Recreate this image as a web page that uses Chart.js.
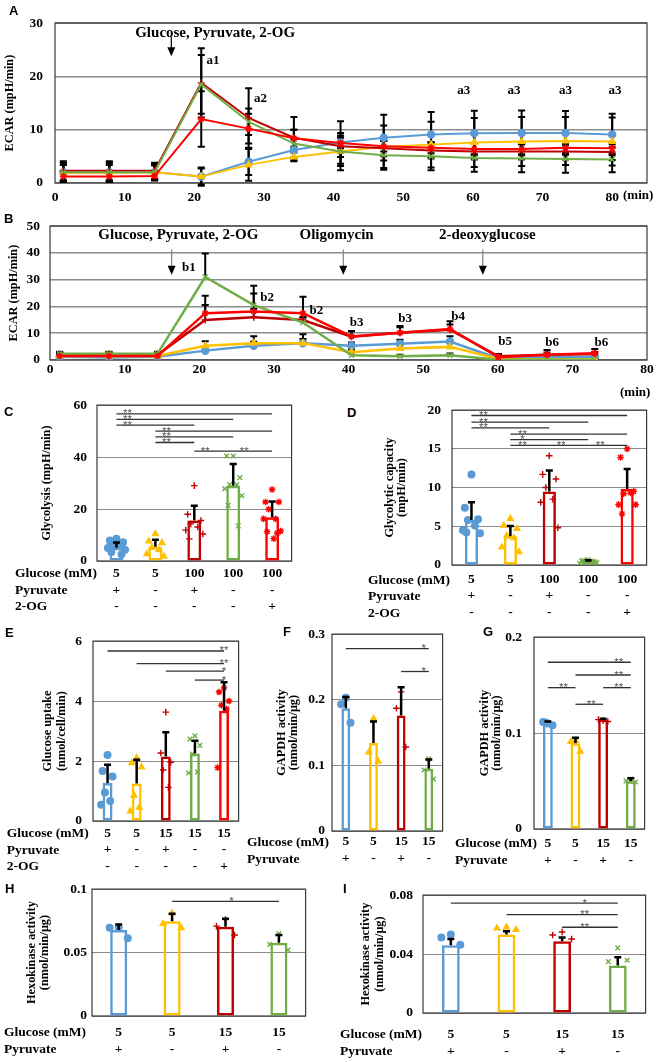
<!DOCTYPE html>
<html>
<head>
<meta charset="utf-8">
<script src="https://cdn.jsdelivr.net/npm/chart.js@4.4.1/dist/chart.umd.min.js"></script>
<style>
html,body{margin:0;padding:0;background:#fff;}
body{width:657px;height:1062px;position:relative;overflow:hidden;}
canvas{position:absolute;}
.rh{position:absolute;font-family:"Liberation Serif","Times New Roman",serif;font-weight:bold;font-size:13.5px;line-height:16.5px;white-space:nowrap;color:#000;}
.pl{position:absolute;font-family:"Liberation Sans",Arial,sans-serif;font-weight:bold;font-size:13px;line-height:13px;color:#000;}
.mn{position:absolute;font-family:"Liberation Serif","Times New Roman",serif;font-weight:bold;font-size:13px;line-height:13px;color:#000;}
</style>
</head>
<body>
<script>
// ================= DATA =================
// Panel A (ECAR time course)
const timeA      = [1.2, 7.8, 14.3, 21, 27.8, 34.3, 41, 47.2, 54, 60.2, 67, 73.3, 80];
const blueA      = [2.0, 2.0, 2.0, 1.2, 4.0, 6.2, 7.6, 8.5, 9.1, 9.35, 9.4, 9.4, 9.1];
const yellowA    = [1.9, 1.9, 2.0, 1.2, 3.4, 4.9, 5.9, 6.8, 7.2, 7.6, 7.8, 7.9, 7.8];
const darkredA   = [2.3, 2.3, 2.3, 18.8, 12.2, 8.5, 6.9, 6.5, 6.1, 5.9, 5.9, 5.9, 5.8];
const greenA     = [2.0, 2.0, 2.0, 18.5, 11.5, 7.4, 5.9, 5.2, 5.0, 4.7, 4.6, 4.5, 4.4];
const redA       = [1.2, 1.2, 1.3, 12.0, 10.2, 8.4, 7.5, 6.9, 6.6, 6.4, 6.4, 6.6, 6.5];
const blueSdA    = [1.8, 1.8, 1.5, 1.7, 2.5, 2.0, 4.0, 4.3, 4.2, 4.2, 4.2, 4.1, 3.9];
const yellowSdA  = [1.5, 1.5, 1.3, 1.5, 3.0, 0.8, 3.5, 4.0, 4.3, 4.6, 4.6, 4.5, 4.5];
const darkredSdA = [1.8, 1.8, 1.5, 6.5, 5.6, 3.9, 2.0, 1.5, 1.5, 1.5, 1.5, 1.5, 1.5];
const greenSdA   = [1.8, 1.8, 1.5, 5.5, 2.5, 2.6, 2.7, 2.7, 2.6, 2.6, 2.6, 2.6, 2.4];
const redSdA     = [0.8, 0.8, 0.8, 5.2, 2.8, 1.6, 1.0, 1.0, 1.0, 1.0, 1.0, 1.0, 1.0];
const xTicksA = [0, 10, 20, 30, 40, 50, 60, 70, 80];
const yTicksA = [0, 10, 20, 30];

// Panel B (ECAR with oligomycin / 2-DG)
const timeB      = [1.3, 7.9, 14.4, 20.8, 27.3, 33.9, 40.4, 46.9, 53.6, 60.1, 66.6, 73.0];
const blueB      = [1.2, 0.9, 1.2, 3.5, 5.3, 6.3, 5.3, 6.1, 6.9, 0.6, 1.0, 1.2];
const yellowB    = [1.5, 1.5, 1.5, 5.3, 6.3, 6.3, 2.9, 4.3, 4.9, 0.4, 0.2, 0.2];
const darkredB   = [1.9, 1.9, 1.9, 14.9, 16.0, 14.9, 8.7, 10.2, 11.3, 1.4, 2.0, 2.2];
const greenB     = [2.3, 2.3, 2.3, 31.0, 20.5, 14.0, 1.8, 1.4, 1.8, 0.1, 0.1, 0.1];
const redB       = [1.5, 1.5, 1.5, 17.5, 18.1, 17.5, 8.8, 10.2, 11.6, 1.0, 2.0, 2.5];
const blueSdB    = [0.8, 0.8, 0.8, 1.2, 1.5, 1.5, 1.2, 1.5, 2.0, 0.6, 0.6, 0.6];
const yellowSdB  = [0.8, 0.8, 0.8, 1.7, 2.6, 3.3, 1.0, 1.5, 1.5, 0.5, 0.5, 0.5];
const darkredSdB = [1.0, 1.0, 1.0, 5.6, 3.0, 1.0, 2.0, 2.0, 2.0, 0.8, 0.8, 0.8];
const greenSdB   = [0.8, 0.8, 0.8, 8.8, 7.2, 2.0, 0.6, 0.6, 0.6, 0.3, 0.3, 0.3];
const redSdB     = [1.0, 1.0, 1.0, 6.5, 6.7, 6.1, 2.0, 2.5, 2.9, 1.2, 1.7, 1.6];
const xTicksB = [0, 10, 20, 30, 40, 50, 60, 70, 80];
const yTicksB = [0, 10, 20, 30, 40, 50];

// Row headers
const rows3 = ['Glucose (mM)', 'Pyruvate', '2-OG'];
const rows2 = ['Glucose (mM)', 'Pyruvate'];

// Panel C (Glycolysis)
const glucoseC  = ['5', '5', '100', '100', '100'];
const pyruvateC = ['+', '-', '+', '-', '-'];
const ogC       = ['-', '-', '-', '-', '+'];
const meanC = [5.1, 5.5, 15.6, 29.0, 16.8];
const sdC   = [2.0, 2.7, 5.7, 8.3, 6.1];
const ptsC  = [
  [8.6, 7.9, 7.2, 6.4, 5.8, 5.0, 4.3, 3.5, 2.6],
  [10.4, 7.6, 7.0, 5.1, 4.3, 2.7, 1.8],
  [29.0, 18.0, 15.6, 14.3, 13.1, 11.9, 10.4, 8.5],
  [40.4, 40.4, 32.1, 29.4, 29.4, 27.8, 25.1, 21.4, 13.5],
  [27.5, 22.7, 22.7, 19.9, 16.2, 16.2, 11.5, 11.3, 10.7, 8.6]
];
const sigC = [[0,4,56.6,'**'],[0,3,54.5,'**'],[0,2,52.3,'**'],[1,4,50.0,'**'],[1,3,47.8,'**'],[1,2,45.6,'**'],[2,3,42.3,'**'],[3,4,42.3,'**']];
const yTicksC = [0, 20, 40, 60];

// Panel D (Glycolytic capacity)
const glucoseD  = ['5', '5', '100', '100', '100'];
const pyruvateD = ['+', '-', '+', '-', '-'];
const ogD       = ['-', '-', '-', '-', '+'];
const meanD = [5.8, 3.7, 9.5, 0.4, 9.8];
const sdD   = [2.3, 1.35, 2.7, 0.2, 2.6];
const ptsD  = [
  [11.7, 7.4, 5.9, 5.8, 5.1, 4.5, 4.1, 4.2],
  [6.0, 5.1, 4.7, 3.8, 3.5, 2.3, 1.7],
  [14.1, 11.7, 11.1, 10.0, 8.5, 8.1, 4.8],
  [0.7, 0.5, 0.4, 0.3, 0.5, 0.2, 0.3, 0.6, 0.4],
  [15.0, 13.9, 9.5, 9.2, 9.3, 7.8, 7.8, 6.6]
];
const sigD = [[0,4,19.3,'**'],[0,3,18.45,'**'],[0,2,17.7,'**'],[1,4,16.9,'**'],[1,3,16.2,'*'],[1,2,15.45,'**'],[2,3,15.45,'**'],[3,4,15.45,'**']];
const yTicksD = [0, 5, 10, 15, 20];

// Panel E (Glucose uptake)
const glucoseE  = ['5', '5', '15', '15', '15'];
const pyruvateE = ['+', '-', '+', '-', '-'];
const ogE       = ['-', '-', '-', '-', '+'];
const meanE = [1.27, 1.25, 2.15, 2.25, 3.68];
const sdE   = [0.61, 0.79, 0.81, 0.43, 0.95];
const ptsE  = [
  [2.2, 1.67, 1.48, 0.95, 0.67, 0.54],
  [2.1, 1.94, 1.8, 0.85, 0.45, 0.33],
  [3.63, 2.27, 1.96, 1.7, 1.12],
  [2.84, 2.73, 2.52, 2.23, 1.64, 1.6],
  [4.44, 4.3, 4.0, 3.86, 3.73, 1.78]
];
const sigE = [[0,4,5.67,'**'],[1,4,5.25,'**'],[2,4,5.0,'*'],[3,4,4.7,'*']];
const yTicksE = [0, 2, 4, 6];

// Panel F (GAPDH activity)
const glucoseF  = ['5', '5', '15', '15'];
const pyruvateF = ['+', '-', '+', '-'];
const meanF = [0.187, 0.134, 0.176, 0.095];
const sdF   = [0.017, 0.033, 0.043, 0.014];
const ptsF  = [[0.203, 0.193, 0.165], [0.171, 0.12, 0.106], [0.212, 0.187, 0.128], [0.110, 0.093, 0.079]];
const sigF = [[0,3,0.278,'*'],[2,3,0.243,'*']];
const yTicksF = [0, 0.1, 0.2, 0.3];

// Panel G (GAPDH activity)
const glucoseG  = ['5', '5', '15', '15'];
const pyruvateG = ['+', '-', '+', '-'];
const meanG = [0.111, 0.0894, 0.114, 0.0497];
const sdG   = [0.001, 0.0056, 0.001, 0.0033];
const ptsG  = [[0.110, 0.1115, 0.108, 0.111], [0.092, 0.091, 0.081], [0.113, 0.114, 0.112], [0.052, 0.050, 0.049]];
const sigG = [[0,3,0.1738,'**'],[1,3,0.1605,'**'],[0,1,0.1473,'**'],[2,3,0.1473,'**'],[1,2,0.130,'**']];
const yTicksG = [0, 0.1, 0.2];

// Panel H (Hexokinase activity)
const glucoseH  = ['5', '5', '15', '15'];
const pyruvateH = ['+', '-', '+', '-'];
const meanH = [0.0677, 0.0747, 0.0703, 0.0578];
const sdH   = [0.0044, 0.0058, 0.0063, 0.006];
const ptsH  = [[0.070, 0.0695, 0.0612], [0.081, 0.0727, 0.0695], [0.076, 0.0708, 0.0638], [0.0648, 0.0565, 0.052]];
const sigH = [[1,3,0.0904,'*']];
const yTicksH = [0, 0.05, 0.1];

// Panel I (Hexokinase activity)
const glucoseI  = ['5', '5', '15', '15'];
const pyruvateI = ['+', '-', '+', '-'];
const meanI = [0.0459, 0.0533, 0.0487, 0.0322];
const sdI   = [0.0043, 0.0021, 0.0025, 0.0057];
const ptsI  = [[0.0533, 0.0512, 0.0463], [0.0582, 0.0576, 0.0565], [0.055, 0.0529, 0.0502], [0.0442, 0.0349, 0.0358]];
const sigI = [[0,3,0.0745,'*'],[1,3,0.0667,'**'],[2,3,0.0582,'**']];
const yTicksI = [0, 0.04, 0.08];

// ================= STYLE / RENDER =================
const SERIF = '"Liberation Serif", "Times New Roman", serif';
Chart.defaults.font.family = SERIF;
Chart.defaults.color = '#000';
const STY = {
  blue:{c:'#5B9BD5', p:'circle'}, yellow:{c:'#FFC000', p:'triangle'},
  darkred:{c:'#C00000', p:'cross'}, green:{c:'#70AD47', p:'crossRot'}, red:{c:'#FF0000', p:'star'}
};
const BAR_KEYS = ['blue', 'yellow', 'darkred', 'green', 'red'];
const JITTER = [0, -0.17, 0.17, -0.09, 0.09, -0.22, 0.22, -0.13, 0.13, 0.04];

function makeCanvas(box, yw, tp, rp, xh){
  const c = document.createElement('canvas');
  const left = box.l - yw, top = box.t - tp;
  const w = Math.round(box.r - left + rp), h = Math.round(box.b - top + xh);
  c.width = w; c.height = h;
  c.style.left = left + 'px'; c.style.top = top + 'px';
  c.style.width = w + 'px'; c.style.height = h + 'px';
  document.body.appendChild(c);
  return c;
}

const boxPlugin = {id:'box', beforeDatasetsDraw(chart){
  const a = chart.chartArea, c = chart.ctx;
  c.save(); c.strokeStyle = '#3a3a3a'; c.lineWidth = 1.2;
  c.strokeRect(a.left, a.top, a.right - a.left, a.bottom - a.top); c.restore();
}};

function errPlugin(items, opt){
  const draw = chart => {
    const xs = chart.scales.x, ys = chart.scales.y, c = chart.ctx;
    c.save(); c.strokeStyle = '#000'; c.lineWidth = opt.lw;
    items.forEach(it => it.ys.forEach((m, i) => {
      const x = xs.getPixelForValue(it.xs ? it.xs[i] : i);
      const yT = ys.getPixelForValue(m + it.sds[i]);
      const yB = ys.getPixelForValue(opt.both ? m - it.sds[i] : m);
      c.beginPath(); c.moveTo(x, yB); c.lineTo(x, yT);
      c.moveTo(x - opt.cap/2, yT); c.lineTo(x + opt.cap/2, yT);
      if (opt.both){ c.moveTo(x - opt.cap/2, yB); c.lineTo(x + opt.cap/2, yB); }
      c.stroke();
    }));
    c.restore();
  };
  return {id:'err', beforeDatasetsDraw(ch){ if (opt.under) draw(ch); }, afterDatasetsDraw(ch){ if (!opt.under) draw(ch); }};
}

function sigPlugin(items, anchor){
  return {id:'sig', afterDatasetsDraw(chart){
    const xs = chart.scales.x, ys = chart.scales.y, c = chart.ctx;
    c.save();
    items.forEach(([a, b, v, t]) => {
      const x1 = xs.getPixelForValue(a), x2 = xs.getPixelForValue(b), y = ys.getPixelForValue(v);
      c.strokeStyle = '#333'; c.lineWidth = 1.3;
      c.beginPath(); c.moveTo(x1, y); c.lineTo(x2, y); c.stroke();
      c.fillStyle = '#555'; c.font = '11.5px "Liberation Sans", Arial, sans-serif';
      c.textAlign = 'center'; c.textBaseline = 'alphabetic';
      c.fillText(t, x1 + anchor[0] * (x2 - x1) + anchor[1], y + 3.5);
    });
    c.restore();
  }};
}

function notesPlugin(texts, arrows){
  return {id:'notes', afterDatasetsDraw(chart){
    const xs = chart.scales.x, ys = chart.scales.y, c = chart.ctx;
    c.save();
    arrows.forEach(a => {
      const x = xs.getPixelForValue(a.x), y1 = ys.getPixelForValue(a.from), y2 = ys.getPixelForValue(a.to);
      c.strokeStyle = a.color; c.lineWidth = 1.2;
      c.beginPath(); c.moveTo(x, y1); c.lineTo(x, y2 - 8); c.stroke();
      c.fillStyle = '#000';
      c.beginPath(); c.moveTo(x - 4, y2 - 9); c.lineTo(x + 4, y2 - 9); c.lineTo(x, y2); c.closePath(); c.fill();
    });
    texts.forEach(t => {
      c.font = 'bold ' + t.size + 'px ' + SERIF; c.fillStyle = '#000';
      c.textAlign = 'center'; c.textBaseline = 'middle';
      c.fillText(t.text, xs.getPixelForValue(t.x), ys.getPixelForValue(t.y));
    });
    c.restore();
  }};
}

function yAxis(o){
  return {
    type:'linear', position:'left', min:0, max:o.yMax,
    afterBuildTicks: s => { s.ticks = o.yTicks.map(v => ({value:v})); },
    afterFit: s => { s.width = o.yw; },
    grid:{color:'#8c8c8c', lineWidth:o.gridW || 1, drawTicks:false},
    border:{display:false},
    ticks:{padding:o.tickPad, color:'#000', font:{family:SERIF, weight:'bold', size:13.5, lineHeight:1.2}, callback: v => String(v)},
    title:{display:true, text:o.title, color:'#000', font:{family:SERIF, weight:'bold', size:12.3, lineHeight:o.tlh + 'px'}, padding:{top:o.tpad, bottom:0}}
  };
}

function linePanel(o){
  const cv = makeCanvas(o.box, o.yw, o.tp, o.rp, o.xh);
  const datasets = o.order.map(k => ({
    type:'scatter', showLine:true, label:k,
    data: o.time.map((t, i) => ({x:t, y:o.vals[k][i]})),
    borderColor:STY[k].c, backgroundColor:STY[k].c, pointStyle:STY[k].p,
    pointRadius:3.5, pointBorderWidth:1.5, borderWidth:o.lw, tension:0
  }));
  new Chart(cv, {
    type:'scatter',
    data:{datasets},
    options:{
      responsive:false, animation:false, events:[],
      layout:{padding:{top:o.tp, right:o.rp, left:0, bottom:0}},
      plugins:{legend:{display:false}, tooltip:{enabled:false}},
      scales:{
        x:{type:'linear', min:0, max:o.xMax,
           afterBuildTicks: s => { s.ticks = o.xTicks.map(v => ({value:v})); },
           afterFit: s => { s.height = o.xh; },
           grid:{display:false, drawTicks:false}, border:{display:false},
           ticks:{padding:o.xPad, color:'#000', font:{family:SERIF, weight:'bold', size:13.5, lineHeight:1.2}, callback: v => String(v), maxRotation:0, autoSkip:false}},
        y: yAxis(o)
      }
    },
    plugins:[boxPlugin,
      errPlugin(o.order.map(k => ({xs:o.time, ys:o.vals[k], sds:o.sds[k]})), {both:o.both, cap:7, lw:2, under:true}),
      notesPlugin(o.texts, o.arrows)]
  });
}

function barPanel(o){
  const n = o.means.length;
  const cv = makeCanvas(o.box, o.yw, o.tp, o.rp, o.xh);
  const keys = BAR_KEYS.slice(0, n);
  const scatterSets = keys.map((k, i) => ({
    type:'scatter',
    data: o.pts[i].map((v, j) => ({x: i + JITTER[j % JITTER.length], y: v})),
    pointStyle:STY[k].p, pointRadius:3.3, pointBorderWidth:1.4,
    borderColor:STY[k].c, backgroundColor:STY[k].c
  }));
  const barSet = {type:'bar', grouped:false,
    data:o.means.map((m, i) => ({x:i, y:m})),
    borderColor: keys.map(k => STY[k].c), backgroundColor:'rgba(255,255,255,0)',
    borderWidth:2.5, borderSkipped:false, barPercentage:o.bp, categoryPercentage:1};
  new Chart(cv, {
    type:'scatter',
    data:{datasets:[...scatterSets, barSet]},
    options:{
      responsive:false, animation:false, events:[],
      layout:{padding:{top:o.tp, right:o.rp, left:0, bottom:0}},
      plugins:{legend:{display:false}, tooltip:{enabled:false}},
      scales:{
        x:{type:'linear', min:-0.5, max:n - 0.5, offset:false,
           afterBuildTicks: s => { s.ticks = o.labels.map((_, i) => ({value:i})); },
           afterFit: s => { s.height = o.xh; },
           grid:{display:false, drawTicks:false}, border:{display:false},
           ticks:{padding:o.xPad, color:'#000', font:{family:SERIF, weight:'bold', size:13.5, lineHeight:'16.5px'},
                  callback: v => o.labels[Math.round(v)], maxRotation:0, minRotation:0, autoSkip:false}},
        y: yAxis(o)
      }
    },
    plugins:[boxPlugin,
      errPlugin([{xs:null, ys:o.means, sds:o.sds}], {both:false, cap:7, lw:2.5, under:false}),
      sigPlugin(o.sig, o.anchor)]
  });
}

function addText(cls, x, y, html){
  const d = document.createElement('div'); d.className = cls;
  d.style.left = x + 'px'; d.style.top = y + 'px'; d.innerHTML = html;
  document.body.appendChild(d);
}
function rowHead(x, y0, lines){ addText('rh', x, y0 - 8.25, lines.join('<br>')); }
const zip3 = (a, b, c) => a.map((v, i) => [v, b[i], c[i]]);
const zip2 = (a, b) => a.map((v, i) => [v, b[i]]);

// ---- Panel A ----
linePanel({
  box:{l:55, t:12.7, r:647, b:183}, yw:53, tp:10, rp:6, xh:26, tickPad:12, xPad:6.9,
  title:'ECAR (mpH/min)', tlh:14.4, tpad:0.8, yMax:30, yTicks:yTicksA, xMax:85, xTicks:xTicksA,
  lw:2, both:true, gridW:1.5, time:timeA,
  order:['red', 'green', 'darkred', 'yellow', 'blue'],
  vals:{blue:blueA, yellow:yellowA, darkred:darkredA, green:greenA, red:redA},
  sds:{blue:blueSdA, yellow:yellowSdA, darkred:darkredSdA, green:greenSdA, red:redSdA},
  texts:[
    {x:23, y:28.2, text:'Glucose, Pyruvate, 2-OG', size:15},
    {x:22.7, y:22.9, text:'a1', size:13}, {x:29.5, y:15.9, text:'a2', size:13},
    {x:58.7, y:17.3, text:'a3', size:13}, {x:65.9, y:17.3, text:'a3', size:13},
    {x:73.3, y:17.3, text:'a3', size:13}, {x:80.4, y:17.3, text:'a3', size:13}
  ],
  arrows:[{x:16.7, from:27.4, to:23.8, color:'#000'}]
});

// ---- Panel B ----
linePanel({
  box:{l:50, t:218.3, r:647, b:360.7}, yw:46, tp:10, rp:10, xh:22, tickPad:10, xPad:1,
  title:'ECAR (mpH/min)', tlh:14.4, tpad:2.4, yMax:50, yTicks:yTicksB, xMax:80, xTicks:xTicksB,
  lw:2.5, both:false, gridW:1.5, time:timeB,
  order:['red', 'green', 'darkred', 'yellow', 'blue'],
  vals:{blue:blueB, yellow:yellowB, darkred:darkredB, green:greenB, red:redB},
  sds:{blue:blueSdB, yellow:yellowSdB, darkred:darkredSdB, green:greenSdB, red:redSdB},
  texts:[
    {x:17.2, y:46.6, text:'Glucose, Pyruvate, 2-OG', size:15},
    {x:38.4, y:46.6, text:'Oligomycin', size:15},
    {x:58.6, y:46.6, text:'2-deoxyglucose', size:15},
    {x:18.6, y:34.4, text:'b1', size:13}, {x:29.1, y:23.2, text:'b2', size:13},
    {x:35.7, y:18.6, text:'b2', size:13}, {x:41.1, y:14.0, text:'b3', size:13},
    {x:47.6, y:15.6, text:'b3', size:13}, {x:54.7, y:16.2, text:'b4', size:13},
    {x:61.0, y:6.8, text:'b5', size:13}, {x:67.3, y:6.3, text:'b6', size:13},
    {x:73.9, y:6.3, text:'b6', size:13}
  ],
  arrows:[{x:16.3, from:41.3, to:31.8, color:'#808080'}, {x:39.3, from:41.3, to:31.8, color:'#808080'}, {x:58.0, from:41.3, to:31.8, color:'#808080'}]
});

// ---- Panel C ----
barPanel({box:{l:96.7, t:396.7, r:292.7, b:560.7}, yw:60, tp:10, rp:4, xh:60, tickPad:10, xPad:4.35,
  title:'Glycolysis (mpH/min)', tlh:14.4, tpad:2.8, yMax:60, yTicks:yTicksC, bp:0.357,
  labels:zip3(glucoseC, pyruvateC, ogC), means:meanC, sds:sdC, pts:ptsC, sig:sigC, anchor:[0, 11]});
// ---- Panel D ----
barPanel({box:{l:452, t:401.3, r:648, b:565.7}, yw:70, tp:10, rp:4, xh:62, tickPad:11, xPad:6,
  title:['Glycolytic capacity', '(mpH/min)'], tlh:12, tpad:2, yMax:20, yTicks:yTicksD, bp:0.34,
  labels:zip3(glucoseD, pyruvateD, ogD), means:meanD, sds:sdD, pts:ptsD, sig:sigD, anchor:[0, 12]});
// ---- Panel E ----
barPanel({box:{l:93.3, t:631.7, r:240, b:821}, yw:55, tp:10, rp:4, xh:60, tickPad:11, xPad:4,
  title:['Glucose uptake', '(nmol/cell/min)'], tlh:14, tpad:2.7, yMax:6, yTicks:yTicksE, bp:0.34,
  labels:zip3(glucoseE, pyruvateE, ogE), means:meanE, sds:sdE, pts:ptsE, sig:sigE, anchor:[1, 0]});
// ---- Panel F ----
barPanel({box:{l:331.7, t:629.3, r:443.3, b:831.7}, yw:58, tp:10, rp:4, xh:40, tickPad:7, xPad:2.75,
  title:['GAPDH activity', '(nmol/min/μg)'], tlh:11.6, tpad:2.2, yMax:0.3, yTicks:yTicksF, bp:0.32,
  labels:zip2(glucoseF, pyruvateF), means:meanF, sds:sdF, pts:ptsF, sig:sigF, anchor:[1, -5]});
// ---- Panel G ----
barPanel({box:{l:534, t:626.7, r:645.7, b:828.3}, yw:56, tp:10, rp:4, xh:44, tickPad:12, xPad:6.75,
  title:['GAPDH activity', '(nmol/min/μg)'], tlh:12.3, tpad:0.85, yMax:0.2, yTicks:yTicksG, bp:0.36,
  labels:zip2(glucoseG, pyruvateG), means:meanG, sds:sdG, pts:ptsG, sig:sigG, anchor:[1, -12]});
// ---- Panel H ----
barPanel({box:{l:92.3, t:886, r:307.7, b:1015.7}, yw:68, tp:10, rp:4, xh:46, tickPad:5, xPad:8.75,
  title:['Hexokinase activity', '(nmol/min/μg)'], tlh:13.3, tpad:0.75, yMax:0.1, yTicks:yTicksH, bp:0.32,
  labels:zip2(glucoseH, pyruvateH), means:meanH, sds:sdH, pts:ptsH, sig:sigH, anchor:[0.5, 6]});
// ---- Panel I ----
barPanel({box:{l:422.8, t:886.7, r:646.4, b:1012.3}, yw:66, tp:10, rp:4, xh:49, tickPad:10, xPad:13.75,
  title:['Hexokinase activity', '(nmol/min/μg)'], tlh:14.5, tpad:1.2, yMax:0.08, yTicks:yTicksI, bp:0.32,
  labels:zip2(glucoseI, pyruvateI), means:meanI, sds:sdI, pts:ptsI, sig:sigI, anchor:[1, -33]});

// ---- HTML text: row headers, panel letters, axis unit ----
rowHead(15, 573.3, rows3);
rowHead(368, 580, rows3);
rowHead(6.7, 833.3, rows3);
rowHead(247, 842.7, rows2);
rowHead(455, 843.3, rows2);
rowHead(4, 1032.7, rows2);
rowHead(340, 1034.3, rows2);
addText('mn', 623, 188, '(min)');
addText('mn', 620, 385, '(min)');
[['A',9,4],['B',4,212],['C',4,405],['D',347,406],['E',5,626],['F',283,625],['G',483,625],['H',5,882],['I',343,882]]
  .forEach(([t, x, y]) => addText('pl', x, y, t));
</script>
</body>
</html>
